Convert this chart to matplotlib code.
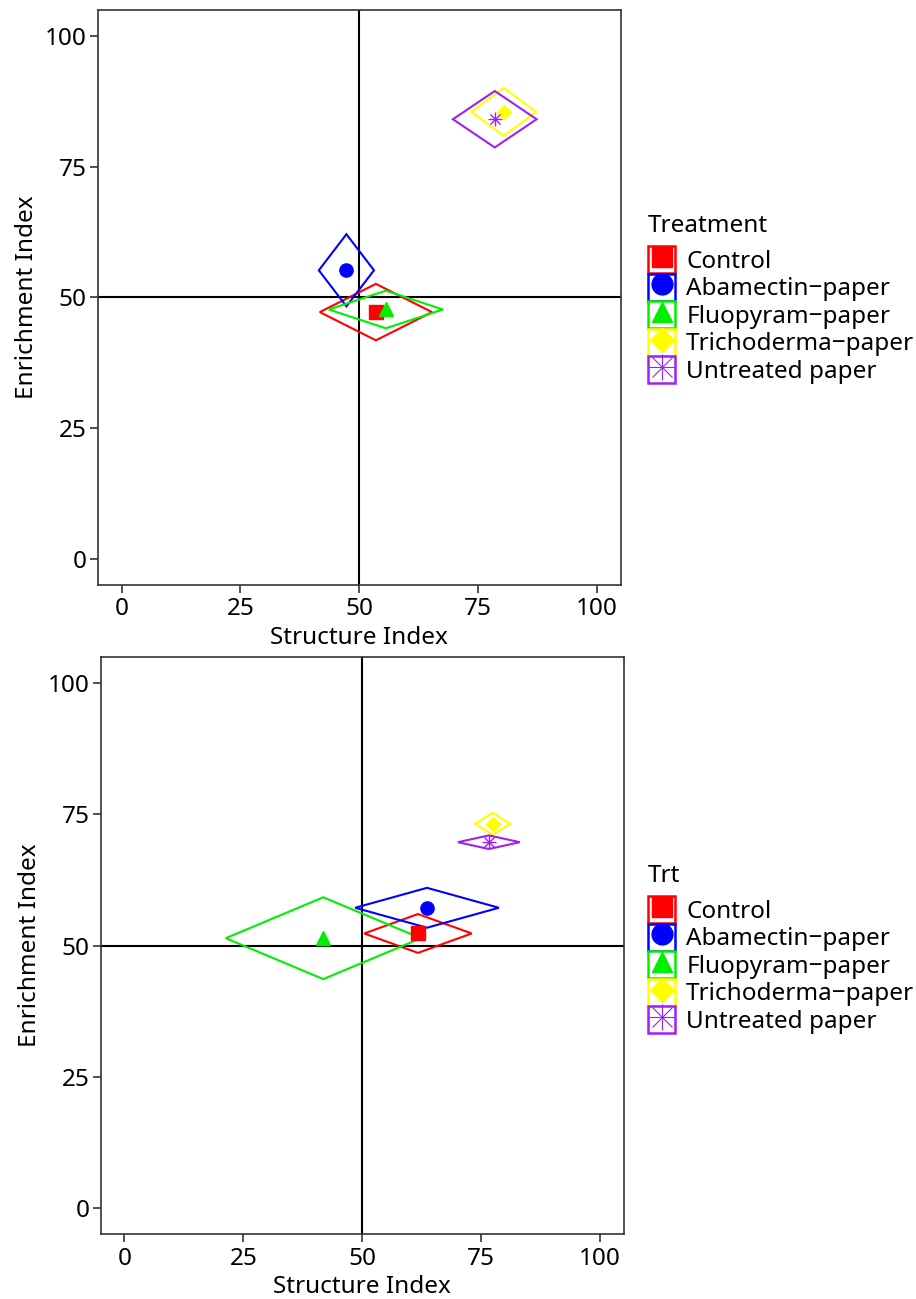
"""Nematode faunal analysis: enrichment vs structure index, two sampling dates."""

import matplotlib
matplotlib.use("Agg")
import matplotlib.pyplot as plt
from matplotlib.lines import Line2D
from matplotlib.patches import Rectangle, Polygon

plt.rcParams["font.family"] = ["Noto Sans", "DejaVu Sans"]

# ── Data (means and half-widths of the error diamonds) ──
treatments = ["Control", "Abamectin−paper", "Fluopyram−paper",
              "Trichoderma−paper", "Untreated paper"]
colors = ["#FF0000", "#0000FF", "#00EE00", "#FFFF00", "#A020F0"]
markers = ["s", "o", "^", "D", "*8"]

# panel 1
si_1 = [53.5, 47.3, 55.6, 80.4, 78.5]
ei_1 = [47.2, 55.2, 47.7, 85.5, 84.1]
si_sd_1 = [11.8, 5.8, 12.0, 6.8, 8.8]
ei_sd_1 = [5.4, 6.9, 3.6, 4.6, 5.4]

# panel 2
si_2 = [61.7, 63.6, 41.8, 77.4, 76.6]
ei_2 = [52.3, 57.2, 51.4, 73.2, 69.7]
si_sd_2 = [11.3, 15.1, 20.5, 3.7, 6.5]
ei_sd_2 = [3.7, 3.8, 7.8, 2.1, 1.3]

ticks = [0, 25, 50, 75, 100]
AXCOL = "#333333"
FS = 17.5


def draw_marker(ax, x, y, m, c, size, lw=1.0):
    if m == "*8":
        ax.plot([x], [y], marker="+", ms=size, mew=lw, color=c, ls="none", zorder=4)
        ax.plot([x], [y], marker="x", ms=size * 0.72, mew=lw, color=c, ls="none", zorder=4)
    else:
        ms = size * 0.8 if m == "D" else size
        ax.plot([x], [y], marker=m, ms=ms, color=c, mec=c, ls="none", zorder=4)


def panel(ax, si, ei, si_sd, ei_sd, title, title_y, legend_top):
    ax.axhline(50, color="black", lw=1.5, zorder=1)
    ax.axvline(50, color="black", lw=1.5, zorder=1)
    for i in range(len(treatments)):
        x, y, dx, dy = si[i], ei[i], si_sd[i], ei_sd[i]
        diamond = Polygon([(x - dx, y), (x, y + dy), (x + dx, y), (x, y - dy)],
                          closed=True, fill=False, edgecolor=colors[i], lw=1.5, zorder=2)
        ax.add_patch(diamond)
    for i in range(len(treatments)):
        draw_marker(ax, si[i], ei[i], markers[i], colors[i], 9.5)

    ax.set_xlim(-5, 105)
    ax.set_ylim(-5, 105)
    ax.set_xticks(ticks)
    ax.set_yticks(ticks)
    ax.tick_params(labelsize=FS, length=6, width=1.2, color=AXCOL, labelcolor="black", pad=2)
    ax.tick_params(axis="x", pad=3)
    for s in ax.spines.values():
        s.set_color(AXCOL)
        s.set_linewidth(1.2)
    ax.set_xlabel("Structure Index", fontsize=FS, labelpad=3)
    ax.set_ylabel("Enrichment Index", fontsize=FS, labelpad=4)

    handles = []
    for c, m in zip(colors, markers):
        box = Rectangle((0, 0), 1, 1, facecolor="white", edgecolor=c, lw=1.8)
        if m == "*8":
            h = (box,
                 Line2D([], [], marker="+", ms=19, mew=0.8, color=c, ls="none"),
                 Line2D([], [], marker="x", ms=14, mew=0.8, color=c, ls="none"))
        else:
            ms = 12 if m == "D" else 15
            h = (box, Line2D([], [], marker=m, ms=ms, color=c, ls="none"))
        handles.append(h)
    fig = ax.figure
    fig.text(648 / 916, 1 - title_y / 1299, title, fontsize=FS, ha="left", va="center")
    fig.legend(handles, treatments, loc="upper left",
               bbox_to_anchor=(648 / 916, 1 - legend_top / 1299), frameon=False,
               fontsize=FS, handlelength=1.12, handleheight=1.33,
               handletextpad=0.45, labelspacing=0.0, borderpad=0,
               borderaxespad=0)


fig = plt.figure(figsize=(9.16, 12.99), dpi=100)
ax1 = fig.add_axes([0.1067, 0.5497, 0.571, 0.4426])
ax2 = fig.add_axes([0.1099, 0.0500, 0.5713, 0.4442])

panel(ax1, si_1, ei_1, si_sd_1, ei_sd_1, "Treatment", 226, 246)
panel(ax2, si_2, ei_2, si_sd_2, ei_sd_2, "Trt", 876, 896)

fig.savefig("out.png", dpi=100)
plt.close("all")
